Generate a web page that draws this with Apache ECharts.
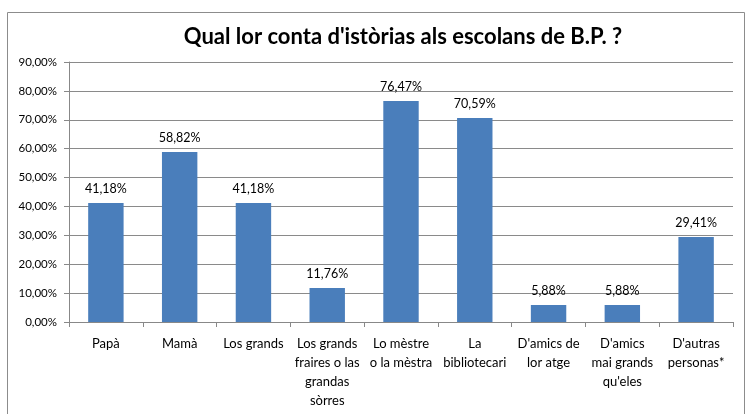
<!DOCTYPE html>
<html>
<head>
<meta charset="utf-8">
<script src="https://cdn.jsdelivr.net/npm/echarts@6/dist/echarts.min.js"></script>
<style>
  html, body { margin: 0; padding: 0; background: #fff; }
  #chart { width: 747px; height: 414px; }
</style>
</head>
<body>
<div id="chart"></div>
<script>
// categorias e valors legits sul grafic
const categories = [
  'Papà', 'Mamà', 'Los grands', 'Los grands\nfraires o las\ngrandas\nsòrres',
  'Lo mèstre\no la mèstra', 'La\nbibliotecari', "D'amics de\nlor atge",
  "D'amics\nmai grands\nqu'eles", "D'autras\npersonas*"
];
const values = [41.18, 58.82, 41.18, 11.76, 76.47, 70.59, 5.88, 5.88, 29.41];
const yTicks = [0, 10, 20, 30, 40, 50, 60, 70, 80, 90];

const fmt = v => v.toFixed(2).replace('.', ',') + '%';
const font = 'Lato, "Open Sans", sans-serif';

const myChart = echarts.init(document.getElementById('chart'));

const option = {
  animation: false,
  textStyle: { fontFamily: font },
  title: {
    text: "Qual lor conta d'istòrias als escolans de B.P. ?",
    left: 398,
    top: 21,
    textAlign: 'center',
    textStyle: { fontSize: 22, fontWeight: 'bold', color: '#000', fontFamily: font }
  },
  graphic: [
    {
      type: 'rect',
      shape: { x: 7.5, y: 12.5, width: 737, height: 410 },
      style: { fill: 'none', stroke: '#8c8c8c', lineWidth: 1 },
      z: -1
    }
  ],
  grid: { left: 69, right: 14, top: 62, bottom: 92, containLabel: false },
  xAxis: {
    type: 'category',
    data: categories,
    axisLine: { lineStyle: { color: '#888', width: 1 } },
    axisTick: { show: true, alignWithLabel: false, length: 5, lineStyle: { color: '#888' } },
    axisLabel: {
      interval: 0,
      color: '#000',
      fontSize: 13,
      lineHeight: 19,
      margin: 12,
      fontFamily: font
    }
  },
  yAxis: {
    type: 'value',
    min: 0,
    max: yTicks[yTicks.length - 1],
    interval: 10,
    axisLine: { show: true, lineStyle: { color: '#888' } },
    axisTick: { show: true, length: 5, lineStyle: { color: '#888' } },
    splitLine: { show: true, lineStyle: { color: '#8a8a8a', width: 1 } },
    axisLabel: {
      color: '#000',
      fontSize: 11.5,
      margin: 12,
      fontFamily: font,
      formatter: v => fmt(v)
    }
  },
  series: [
    {
      type: 'bar',
      data: values,
      barWidth: '48%',
      itemStyle: { color: '#4a7ebb' },
      label: {
        show: true,
        position: 'top',
        distance: 8,
        color: '#000',
        fontSize: 12.5,
        fontFamily: font,
        formatter: p => fmt(p.value)
      }
    }
  ]
};

myChart.setOption(option);
</script>
</body>
</html>
